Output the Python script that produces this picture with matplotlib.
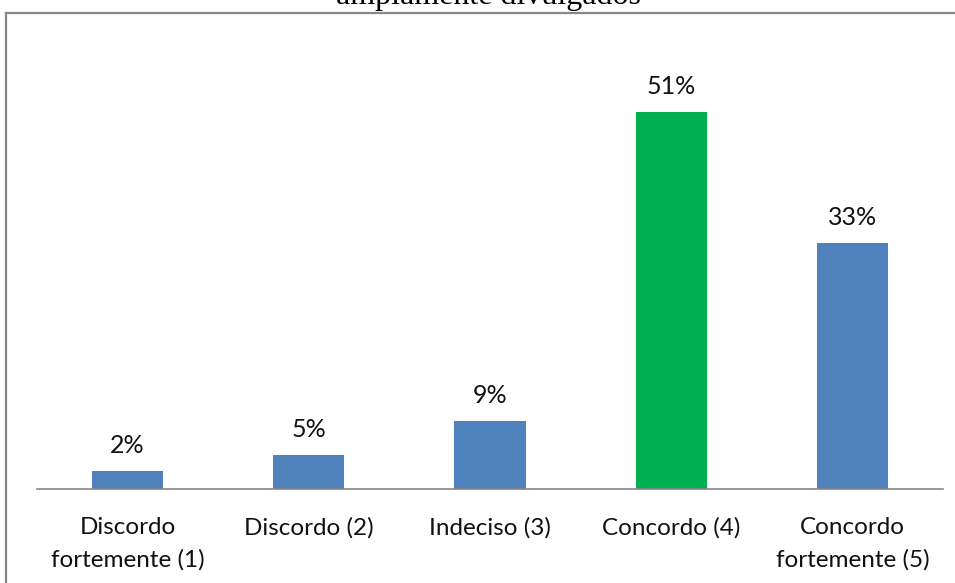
import matplotlib.pyplot as plt
from matplotlib.lines import Line2D

categorias = ['Discordo\nfortemente (1)', 'Discordo (2)', 'Indeciso (3)',
              'Concordo (4)', 'Concordo\nfortemente (5)']
valores = [2.4, 4.6, 9.2, 51.0, 33.2]
rotulos = ['2%', '5%', '9%', '51%', '33%']
cores = ['#4F81BD', '#4F81BD', '#4F81BD', '#00B050', '#4F81BD']
titulo = 'amplamente divulgados'

W, H = 955, 583
fig = plt.figure(figsize=(W / 100, H / 100), dpi=100)
ax = fig.add_axes([37 / W, 94 / H, 906 / W, 444 / H])

x = range(len(categorias))
ax.bar(x, valores, width=0.393, color=cores)
for i in x:
    ax.text(i, valores[i] + 1.9, rotulos[i], ha='center', va='bottom',
            fontsize=18, family='Lato', color='#111111')

ax.set_xlim(-0.5, 4.5)
ax.set_ylim(0, 60)
ax.set_xticks(list(x))
ax.set_xticklabels(categorias, fontsize=17.5, family='Lato', color='#111111',
                   linespacing=1.62)
ax.tick_params(axis='x', length=0, pad=20)
ax.set_yticks([])
for s in ['top', 'right', 'left']:
    ax.spines[s].set_visible(False)
ax.spines['bottom'].set_color('#868686')
ax.spines['bottom'].set_linewidth(1.2)

# moldura cortada da figura original
fig.add_artist(Line2D([5.5 / W, 5.5 / W], [-0.1, 1 - 12.5 / H], color='#888888', lw=1.6))
fig.add_artist(Line2D([5.5 / W, 1.1], [1 - 12.5 / H, 1 - 12.5 / H], color='#888888', lw=1.6))

fig.text(488 / W, 1 - 4 / H, titulo, ha='center', va='baseline', fontsize=23,
         family='Liberation Serif', color='black')

fig.savefig('out.png', dpi=100)
